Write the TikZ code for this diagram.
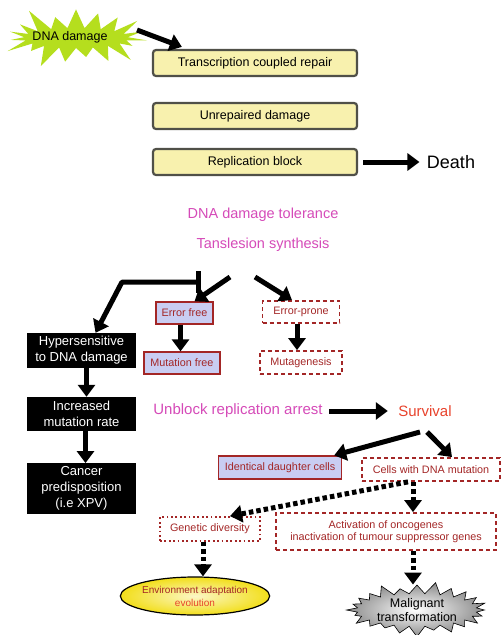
\documentclass[tikz,border=0pt]{standalone}
\usepackage{fontspec}
\setmainfont{Liberation Sans}
\usepackage{xcolor}
\usepackage{tikz}
\usetikzlibrary{positioning,arrows.meta,shapes.symbols,shapes.geometric}
\definecolor{DDGreen}{HTML}{B5DE1E}
\definecolor{DDYellow}{HTML}{F8F1AE}
\definecolor{DDFrame}{HTML}{505048}
\definecolor{DDLilac}{HTML}{C9CDF2}
\definecolor{DDRed}{HTML}{A32626}
\definecolor{DDMagenta}{HTML}{D54AB8}
\definecolor{DDSurvive}{HTML}{E8432C}
\definecolor{DDEgg}{HTML}{F2DE1A}

\begin{document}
\begin{tikzpicture}[x=1pt,y=-1pt,
    yellowbox/.style={draw=DDFrame,line width=2.2pt,fill=DDYellow,rounded corners=3pt,minimum width=204pt,minimum height=26pt,font=\fontsize{12.5}{14}\selectfont},
    lilacbox/.style={draw=DDRed,line width=1.3pt,fill=DDLilac,text=DDRed,inner sep=2pt,minimum height=22pt,font=\fontsize{10.8}{12}\selectfont},
    dashbox/.style={draw=DDRed,line width=1.8pt,dash pattern=on 4pt off 3pt,text=DDRed,inner sep=2pt,minimum height=22pt,font=\fontsize{10.8}{12}\selectfont,align=center},
    dotbox/.style={dashbox,dash pattern=on 1.8pt off 2.6pt},
    blackbox/.style={fill=black,text=white,minimum width=109pt,align=center,font=\fontsize{13}{16}\selectfont},
    pinktext/.style={text=DDMagenta,font=\fontsize{14.5}{16}\selectfont},
    bigarrow/.style={line width=5pt,-{Triangle[length=12pt,width=17pt]}},
    dotarrow/.style={line width=5pt,dash pattern=on 4.5pt off 3pt,-{Triangle[length=12pt,width=17pt]}}]
  \useasboundingbox (0,0) rectangle (502,635);

  % top part
  \node[starburst,starburst points=19,starburst point height=26pt,fill=DDGreen,minimum width=156pt,minimum height=72pt,inner sep=0pt] (dmg) at (76,38) {};
  \node[font=\fontsize{12.5}{14}\selectfont] (dmgtext) at (70,37) {DNA damage};
  \node[yellowbox] (tcr) at (255,63) {Transcription coupled repair};
  \node[yellowbox] (unrep) at (255,116) {Unrepaired damage};
  \node[yellowbox] (repbl) at (255,162) {Replication block};
  \node[font=\fontsize{18}{20}\selectfont] (death) at (451,162) {Death};
  \draw[bigarrow] ([shift={(61,-8)}]dmg.center) -- ([shift={(30,-2)}]tcr.north west);
  \draw[bigarrow,shorten >=4pt] ([xshift=5pt]repbl.east) -- (death.west);

  % left column
  \node[blackbox,minimum height=35pt] (hyper) at (81.5,350.5) {Hypersensitive\\to DNA damage};
  \node[blackbox,minimum height=34pt] (incr) at (81.5,414) {Increased\\mutation rate};
  \node[blackbox,minimum height=47pt] (cancer) at (81.5,488.5) {Cancer\\predisposition\\(i.e XPV)};
  \draw[bigarrow] ([xshift=5pt]hyper.south) -- ([xshift=5pt]incr.north);
  \draw[bigarrow] ([xshift=4pt]incr.south) -- ([xshift=4pt]cancer.north);

  % tolerance
  \node[pinktext] (tol) at (263,215) {DNA damage tolerance};
  \node[pinktext] (tls) at (263,245) {Tanslesion synthesis};
  \node[lilacbox,minimum width=57pt] (errfree) at (184.5,313) {Error free};
  \node[dashbox,minimum width=77pt] (errprone) at (301,312) {Error-prone};
  \node[lilacbox,minimum width=76pt] (mutfree) at (182,363) {Mutation free};
  \node[dashbox,minimum width=82pt,minimum height=23pt] (mutagen) at (301,362.5) {Mutagenesis};
  \coordinate (tbar) at (198,282);
  \coordinate (tfrom) at (230,277);
  \coordinate (pfrom) at (255,277);
  \draw[line width=5pt] (198,271) -- (198,293);
  \draw[bigarrow,rounded corners=1pt] (tbar) -- (122,282) -- ([xshift=14pt]hyper.north);
  \draw[bigarrow] (tfrom) -- ([xshift=10pt]errfree.north);
  \draw[bigarrow] (pfrom) -- ([xshift=-9pt]errprone.north);
  \draw[bigarrow] ([xshift=-4pt]errfree.south) -- ([xshift=-4pt]errfree.south |- mutfree.north);
  \draw[bigarrow] ([xshift=-4pt]errprone.south) -- ([xshift=-4pt]errprone.south |- mutagen.north);

  % survival
  \node[pinktext,font=\fontsize{15}{16}\selectfont] (unblock) at (238,411) {Unblock replication arrest};
  \node[text=DDSurvive,font=\fontsize{15}{16}\selectfont] (survival) at (425,411) {Survival};
  \node[lilacbox,minimum width=123pt,minimum height=23pt] (ident) at (280,467.5) {Identical daughter cells};
  \node[dashbox,minimum width=138pt,minimum height=23pt] (cellsmut) at (431,469.5) {Cells with DNA mutation};
  \node[dotbox,minimum width=100pt,minimum height=24pt] (genetic) at (210,529) {Genetic diversity};
  \node[dashbox,minimum width=220pt,minimum height=37pt] (activ) at (386,531.5) {Activation of oncogenes\\inactivation of tumour suppressor genes};
  \node[ellipse,draw=black,line width=1.2pt,inner color=DDEgg!25,outer color=DDEgg,minimum width=134pt,minimum height=38pt,inner sep=0pt,align=center,font=\fontsize{10}{13}\selectfont] (env) at (195,596) {\textcolor{DDRed}{Environment adaptation}\\\textcolor{DDSurvive}{evolution}};
  \node[starburst,starburst points=24,starburst point height=12pt,draw=black,line width=0.6pt,inner color=white,outer color=black!45,minimum width=144pt,minimum height=56pt,inner sep=0pt,align=center,font=\fontsize{12.5}{14}\selectfont] (malig) at (417,610) {Malignant\\transformation};
  \draw[bigarrow,shorten <=3pt,shorten >=3pt] (unblock.east) -- ([xshift=-4pt]survival.west);
  \draw[bigarrow] ([shift={(-5,21)}]survival.center) -- ([xshift=-8pt]ident.north east);
  \draw[bigarrow] ([shift={(2,21)}]survival.center) -- ([xshift=21pt]cellsmut.north);
  \draw[dotarrow] ([xshift=-23pt]cellsmut.south) -- ([xshift=20pt]genetic.north);
  \draw[dotarrow] ([xshift=-18pt]cellsmut.south) -- ([xshift=-18pt]cellsmut.south |- activ.north);
  \draw[dotarrow] ([xshift=-7pt]genetic.south) -- ([xshift=-7pt]genetic.south |- env.north);
  \draw[dotarrow] ([xshift=27pt]activ.south) -- ([xshift=27pt]activ.south |- malig.north);
\end{tikzpicture}
\end{document}
